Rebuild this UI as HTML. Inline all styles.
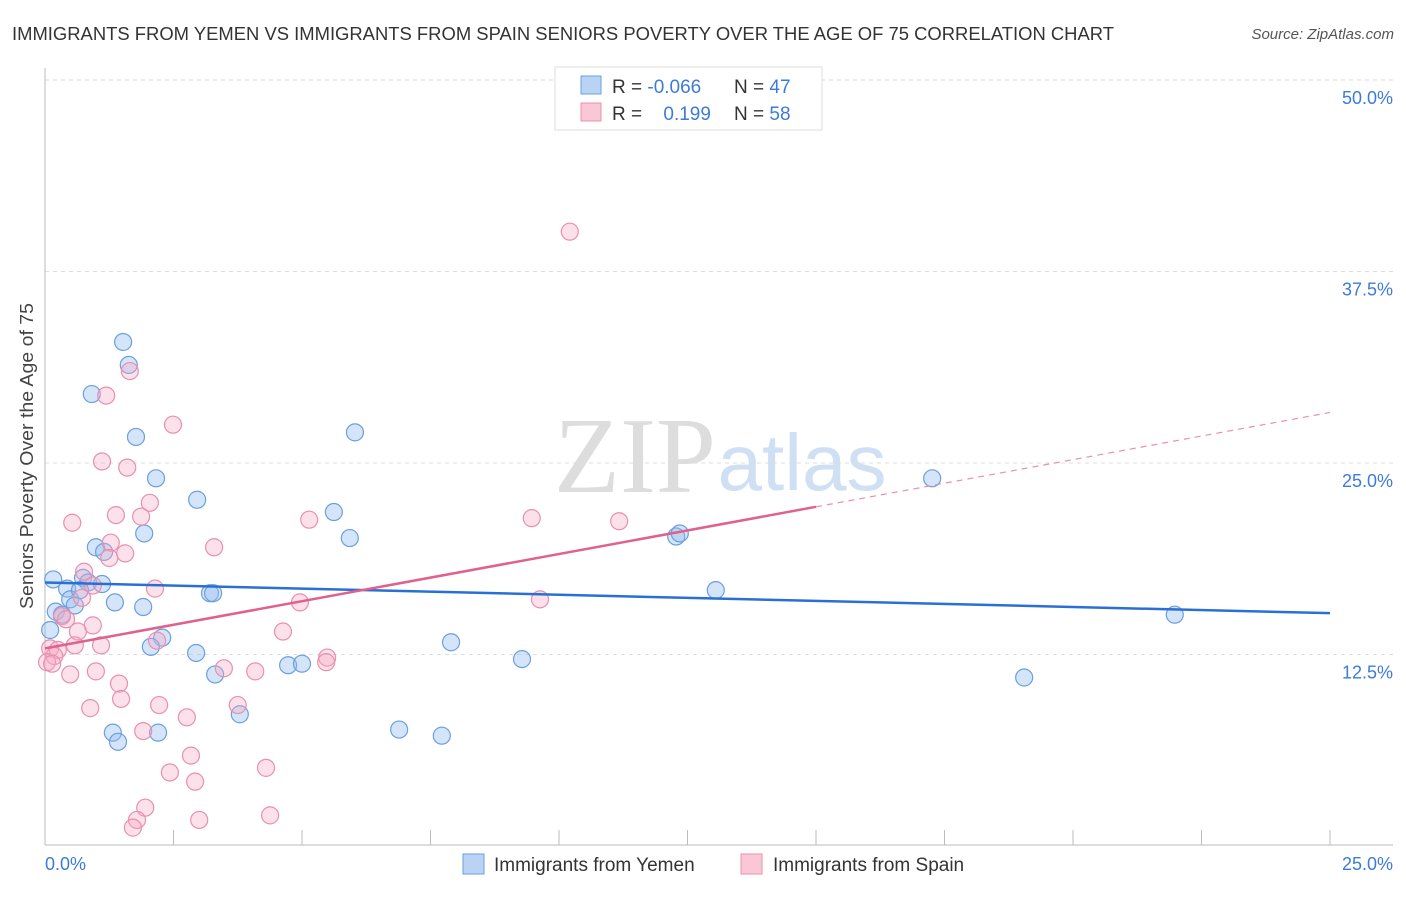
<!DOCTYPE html>
<html><head><meta charset="utf-8"><style>
body{margin:0;background:#fff;font-family:"Liberation Sans",sans-serif}
</style></head><body>
<svg id="c" width="1406" height="892" xmlns="http://www.w3.org/2000/svg">
<text x="12" y="40" font-size="18" fill="#333" textLength="1102" lengthAdjust="spacingAndGlyphs">IMMIGRANTS FROM YEMEN VS IMMIGRANTS FROM SPAIN SENIORS POVERTY OVER THE AGE OF 75 CORRELATION CHART</text>
<text x="1394" y="39" font-size="15" fill="#555" font-style="italic" text-anchor="end">Source: ZipAtlas.com</text>
<text x="33" y="456" font-size="18" fill="#444" text-anchor="middle" textLength="306" lengthAdjust="spacingAndGlyphs" transform="rotate(-90 33 456)">Seniors Poverty Over the Age of 75</text>
<text x="635" y="492" font-size="108" fill="#ddd" font-family="Liberation Serif" text-anchor="middle">ZIP</text>
<text x="802" y="490" font-size="80" fill="#cfe0f5" text-anchor="middle">atlas</text>
<g id="grid"></g><g id="axes"></g><g id="pts"></g><g id="lines"></g>
<g>
<rect x="555" y="67" width="267" height="63" fill="#fff" stroke="#ddd"/>
<rect x="581" y="76" width="20" height="18" fill="#b9d3f5" stroke="#6a9fe0"/>
<rect x="581" y="103" width="20" height="18" fill="#fac7d7" stroke="#e890ad"/>
<text x="612" y="93" font-size="19" fill="#333">R = <tspan fill="#3d7bd9">-0.066</tspan></text>
<text x="734" y="93" font-size="19" fill="#333">N = <tspan fill="#3d7bd9">47</tspan></text>
<text x="612" y="120" font-size="19" fill="#333">R = <tspan fill="#3d7bd9" dx="16">0.199</tspan></text>
<text x="734" y="120" font-size="19" fill="#333">N = <tspan fill="#3d7bd9">58</tspan></text>
</g>
<g>
<rect x="463" y="854" width="21" height="20" fill="#b9d3f5" stroke="#6a9fe0"/>
<text x="494" y="871" font-size="19" fill="#333">Immigrants from Yemen</text>
<rect x="741" y="854" width="21" height="20" fill="#fac7d7" stroke="#e890ad"/>
<text x="773" y="871" font-size="19" fill="#333">Immigrants from Spain</text>
</g>
</svg>
<script>
const yTicks=[12.5,25,37.5,50];
const yTickLabels=["12.5%","25.0%","37.5%","50.0%"];
const xTicks=[0,2.5,5,7.5,10,12.5,15,17.5,20,22.5,25];
const yemenX=[1.52,1.63,0.91,1.77,6.03,2.16,2.96,5.62,1.93,5.93,0.99,1.15,0.16,0.74,0.84,1.11,0.43,0.49,0.68,0.58,1.36,1.91,0.21,0.33,0.10,3.21,3.27,2.28,2.06,2.94,3.31,4.73,5.00,3.79,1.32,1.42,2.20,6.89,7.72,7.90,9.28,12.28,12.35,13.05,17.26,21.98,19.05];
const yemenY=[32.9,31.4,29.5,26.7,27.0,24.0,22.6,21.8,20.4,20.1,19.5,19.2,17.4,17.5,17.2,17.1,16.8,16.1,16.7,15.7,15.9,15.6,15.3,15.1,14.1,16.5,16.5,13.6,13.0,12.6,11.2,11.8,11.9,8.6,7.4,6.8,7.4,7.6,7.2,13.3,12.2,20.2,20.4,16.7,24.0,15.1,11.0];
const spainX=[10.21,1.65,1.19,2.49,1.11,1.60,2.04,0.53,1.38,1.87,5.14,9.47,11.17,3.29,1.28,1.56,1.25,0.76,0.72,0.93,2.14,0.33,0.41,4.96,9.63,0.93,0.64,4.63,1.09,0.58,2.18,0.10,0.25,0.18,0.04,0.14,0.49,0.99,3.48,4.09,5.49,5.47,1.44,2.22,3.75,0.88,1.48,2.76,1.91,2.84,4.30,2.43,2.92,1.95,1.79,1.71,3.00,4.38];
const spainY=[40.1,31.0,29.4,27.5,25.1,24.7,22.4,21.1,21.6,21.5,21.3,21.4,21.2,19.5,19.8,19.1,18.8,17.9,16.2,17.0,16.8,15.0,14.8,15.9,16.1,14.4,14.0,14.0,13.1,13.1,13.4,12.9,12.8,12.4,12.0,11.9,11.2,11.4,11.6,11.4,12.3,12.0,10.6,9.2,9.2,9.0,9.6,8.4,7.5,5.9,5.1,4.8,4.2,2.5,1.7,1.2,1.7,2.0];
const yemenTrend=[17.2,15.2];
const spainTrend=[12.9,28.3];
const spainSolidEnd=15.0;
const X=v=>45+v/25*1285, Y=v=>846-v*15.32;
const NS="http://www.w3.org/2000/svg";
function mk(tag,a,parent){const e=document.createElementNS(NS,tag);for(const k in a)e.setAttribute(k,a[k]);document.getElementById(parent).appendChild(e);return e;}
yTicks.forEach((t,i)=>{
 const l=mk('line',{x1:45,x2:1393,y1:Y(t),y2:Y(t),stroke:'#ddd','stroke-dasharray':'4 4'},'grid');
 
 
 const tx=mk('text',{x:1393,y:Y(t)+24,'font-size':18,fill:'#3d7bd9','text-anchor':'end'},'grid');
 tx.textContent=yTickLabels[i];
 
 
});
let a=mk('line',{x1:45,x2:45,y1:68,y2:845,stroke:'#bbb'},'axes');


a=mk('line',{x1:45,x2:1393,y1:845,y2:845,stroke:'#bbb'},'axes');


xTicks.forEach(t=>{const l=mk('line',{x1:X(t),x2:X(t),y1:830,y2:845,stroke:'#bbb'},'axes');
 
 });
let t0=mk('text',{x:45,y:870,'font-size':18,fill:'#3d7bd9'},'axes');t0.textContent='0.0%';


t0=mk('text',{x:1393,y:870,'font-size':18,fill:'#3d7bd9','text-anchor':'end'},'axes');t0.textContent='25.0%';


yemenX.forEach((v,i)=>{const c=mk('circle',{cx:X(v),cy:Y(yemenY[i]),r:8.5,fill:'rgba(150,190,240,0.4)',stroke:'#6a9fe0','stroke-width':1.2},'pts');
 
 });
spainX.forEach((v,i)=>{const c=mk('circle',{cx:X(v),cy:Y(spainY[i]),r:8.5,fill:'rgba(245,170,195,0.35)',stroke:'#e890ad','stroke-width':1.2},'pts');
 
 });
let tl=mk('line',{x1:X(0),y1:Y(yemenTrend[0]),x2:X(25),y2:Y(yemenTrend[1]),stroke:'#2a6fd6','stroke-width':2.5},'lines');


const sp=v=>spainTrend[0]+(spainTrend[1]-spainTrend[0])*v/25;
tl=mk('line',{x1:X(0),y1:Y(sp(0)),x2:X(spainSolidEnd),y2:Y(sp(spainSolidEnd)),stroke:'#e0618b','stroke-width':2.5},'lines');


tl=mk('line',{x1:X(spainSolidEnd),y1:Y(sp(spainSolidEnd)),x2:X(25),y2:Y(sp(25)),stroke:'#e890ad','stroke-width':1.2,'stroke-dasharray':'6 5'},'lines');


</script>
</body></html>
